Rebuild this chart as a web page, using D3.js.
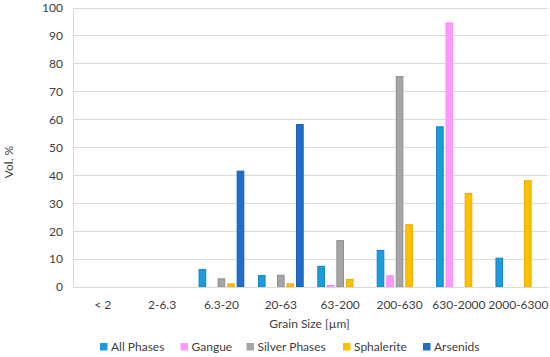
<!DOCTYPE html>
<html><head><meta charset="utf-8">
<script src="https://cdn.jsdelivr.net/npm/d3@7/dist/d3.min.js"></script>
<style>body{margin:0;background:#fff}svg{display:block}text{font-family:Lato,"Open Sans",sans-serif;fill:#404040}</style>
</head><body>
<svg id="c" width="550" height="357"></svg>
<script>
const categories = ["< 2","2-6.3","6.3-20","20-63","63-200","200-630","630-2000","2000-6300"];
const seriesNames = ["All Phases","Gangue","Silver Phases","Sphalerite","Arsenids"];
const allPhases   = [0,0,6.4,4.3,7.6,13.3,57.6,10.5];
const gangue      = [0,0,0,0,0.7,4.2,94.8,0];
const silverPhases= [0,0,3.1,4.4,16.8,75.6,0,0];
const sphalerite  = [0,0,1.3,1.3,2.9,22.5,33.7,38.3];
const arsenids    = [0,0,41.7,58.4,0,0,0,0];
const yTicks = [0,10,20,30,40,50,60,70,80,90,100];
const fills   = ["#1c9ddb","#ff99ff","#a5a5a5","#ffc000","#1f6fc9"];
const strokes = ["#1681bd","#f28af2","#8e8e8e","#e8ad00","#185ea9"];

const seriesVals = [allPhases,gangue,silverPhases,sphalerite,arsenids];
const svg = d3.select("#c");
const m = {l:73,r:2,t:8,b:70};
const W=550,H=357;
const FONT = 'Lato,"Open Sans",sans-serif';
const x0 = d3.scaleBand().domain(categories).range([m.l,W-m.r]).paddingInner(0.23).paddingOuter(0.115);
const x1 = d3.scaleBand().domain(seriesNames).range([0,x0.bandwidth()]).paddingInner(0.2);
const y = d3.scaleLinear().domain([0,100]).range([H-m.b,m.t]);

// gridlines
svg.append("g").selectAll("line").data(yTicks).join("line")
  .attr("x1",m.l).attr("x2",W-m.r).attr("y1",d=>y(d)).attr("y2",d=>y(d))
  .attr("stroke","#d9d9d9").attr("stroke-width",1).attr("shape-rendering","crispEdges");

// y axis
const ya = svg.append("g").attr("transform",`translate(${m.l},0)`)
  .call(d3.axisLeft(y).tickValues(yTicks).tickSize(0).tickPadding(10));
ya.select(".domain").attr("stroke","#d9d9d9");
ya.selectAll("text").attr("font-size",12).attr("fill","#404040").style("font-family",FONT);

// bars
const groups = svg.append("g").selectAll("g").data(categories).join("g")
  .attr("transform",d=>`translate(${x0(d)},0)`);
groups.selectAll("rect").data((c,i)=>seriesNames.map((s,k)=>({s,k,v:seriesVals[k][i]})).filter(d=>d.v>0))
  .join("rect")
  .attr("x",d=>x1(d.s)+0.5).attr("width",x1.bandwidth()-1)
  .attr("y",d=>y(d.v)+0.5).attr("height",d=>y(0)-y(d.v)-0.5)
  .attr("fill",d=>fills[d.k]).attr("stroke",d=>strokes[d.k]).attr("stroke-width",1);

// x axis
const xa = svg.append("g").attr("transform",`translate(0,${y(0)})`)
  .call(d3.axisBottom(x0).tickSize(0).tickPadding(13));
xa.select(".domain").attr("stroke","#d9d9d9");
xa.selectAll("text").attr("font-size",12).attr("fill","#404040").style("font-family",FONT);

// axis titles
svg.append("text").attr("x",309.5).attr("y",328).attr("text-anchor","middle")
  .attr("font-size",12).text("Grain Size [µm]");
svg.append("text").attr("transform","translate(13,162) rotate(-90)").attr("text-anchor","middle")
  .attr("font-size",12).text("Vol. %");

// legend
const legX = [100,180.5,246.5,343,423];
const lg = svg.append("g").selectAll("g").data(seriesNames).join("g")
  .attr("transform",(d,i)=>`translate(${legX[i]},343)`);
lg.append("rect").attr("width",7.5).attr("height",7.5).attr("fill",(d,i)=>fills[i]);
lg.append("text").attr("x",11).attr("y",7.8).attr("font-size",12).text(d=>d);
</script>
</body></html>
